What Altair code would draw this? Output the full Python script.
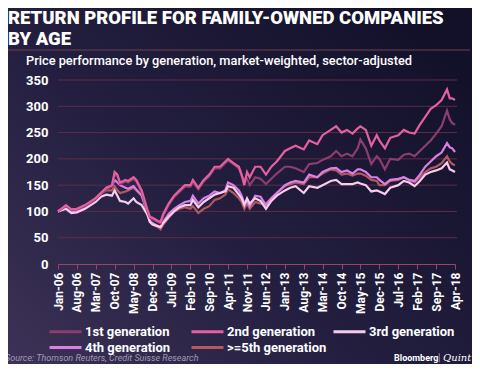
import altair as alt
import pandas as pd

dates = ["2006-01", "2006-04", "2006-06", "2006-08", "2006-11", "2007-03", "2007-05", "2007-07",
         "2007-09", "2007-10", "2007-11", "2007-12", "2008-02", "2008-03", "2008-05", "2008-06",
         "2008-08", "2008-10", "2008-11", "2008-12", "2009-02", "2009-03", "2009-04", "2009-06",
         "2009-08", "2009-10", "2009-12", "2010-02", "2010-03", "2010-05", "2010-07", "2010-09",
         "2010-11", "2011-01", "2011-03", "2011-04", "2011-06", "2011-08", "2011-09", "2011-10",
         "2011-11", "2011-12", "2012-02", "2012-04", "2012-06", "2012-08", "2012-10", "2013-01",
         "2013-03", "2013-05", "2013-08", "2013-10", "2014-01", "2014-03", "2014-06", "2014-08",
         "2014-10", "2014-12", "2015-02", "2015-04", "2015-05", "2015-07", "2015-09", "2015-11",
         "2015-12", "2016-02", "2016-04", "2016-07", "2016-09", "2016-11", "2017-01", "2017-03",
         "2017-05", "2017-07", "2017-09", "2017-11", "2018-01", "2018-02", "2018-03", "2018-04"]

gen1 = [100, 110, 103, 104, 110, 123, 133, 142, 148, 170, 167, 152, 157, 155, 162, 157,
        137, 102, 88, 85, 80, 77, 92, 112, 127, 137, 147, 147, 156, 142, 157, 167,
        182, 182, 192, 197, 190, 182, 168, 160, 162, 150, 165, 162, 152, 162, 172, 185,
        185, 182, 175, 190, 192, 198, 205, 215, 205, 210, 205, 220, 237, 220, 190, 205,
        200, 180, 200, 198, 208, 210, 205, 215, 225, 235, 248, 262, 292, 275, 268, 265]

gen2 = [100, 112, 104, 105, 112, 125, 135, 145, 150, 175, 170, 155, 160, 158, 165, 160,
        140, 105, 90, 88, 82, 80, 95, 115, 130, 140, 150, 150, 160, 145, 160, 170,
        185, 185, 195, 200, 192, 185, 170, 150, 175, 165, 185, 185, 170, 185, 195, 215,
        220, 225, 218, 235, 228, 245, 255, 262, 250, 255, 248, 258, 262, 255, 225, 245,
        235, 220, 240, 245, 255, 250, 248, 265, 280, 295, 302, 312, 332, 315, 315, 312]

gen3 = [100, 105, 97, 98, 105, 118, 128, 132, 130, 140, 130, 120, 118, 115, 125, 118,
        112, 95, 80, 75, 72, 70, 78, 90, 100, 108, 112, 112, 122, 108, 118, 125,
        132, 135, 138, 148, 145, 132, 125, 112, 125, 115, 125, 120, 105, 120, 130, 140,
        145, 148, 135, 148, 145, 150, 158, 160, 152, 152, 152, 155, 153, 150, 138, 140,
        138, 133, 145, 150, 158, 155, 148, 158, 170, 175, 178, 182, 193, 180, 178, 175]

gen4 = [100, 108, 100, 100, 108, 125, 135, 145, 148, 160, 155, 150, 145, 143, 148, 142,
        130, 100, 82, 78, 72, 70, 80, 95, 105, 112, 118, 120, 130, 115, 125, 130,
        138, 135, 140, 155, 150, 140, 130, 115, 120, 110, 130, 128, 112, 125, 135, 150,
        155, 158, 155, 170, 165, 175, 182, 183, 175, 178, 172, 180, 180, 175, 165, 165,
        160, 152, 160, 162, 165, 160, 158, 170, 185, 195, 205, 212, 230, 222, 220, 213]

gen5 = [100, 108, 103, 103, 110, 125, 135, 140, 140, 148, 140, 135, 138, 140, 145, 140,
        130, 100, 80, 75, 70, 66, 75, 88, 100, 105, 108, 105, 110, 97, 105, 110,
        122, 125, 132, 142, 135, 125, 118, 105, 115, 105, 118, 115, 115, 125, 135, 148,
        152, 155, 152, 165, 165, 172, 180, 178, 170, 172, 168, 172, 172, 168, 160, 158,
        150, 150, 158, 160, 165, 160, 155, 165, 175, 182, 185, 192, 205, 195, 190, 188]

series_names = ["1st generation", "2nd generation", "3rd generation", "4th generation", ">=5th generation"]
series_colors = ["#8c3d70", "#e4609f", "#f6cdee", "#d97fe6", "#b3585e"]
draw_order = [">=5th generation", "4th generation", "3rd generation", "1st generation", "2nd generation"]

tick_labels = ["Jan-06", "Aug-06", "Mar-07", "Oct-07", "May-08", "Dec-08", "Jul-09", "Feb-10",
               "Sep-10", "Apr-11", "Nov-11", "Jun-12", "Jan-13", "Aug-13", "Mar-14", "Oct-14",
               "May-15", "Dec-15", "Jul-16", "Feb-17", "Sep-17", "Apr-18"]
y_ticks = [0, 50, 100, 150, 200, 250, 300, 350]

values_by_name = dict(zip(series_names, [gen1, gen2, gen3, gen4, gen5]))
rows = []
for name in draw_order:
    for d, v in zip(dates, values_by_name[name]):
        rows.append({"date": d + "-01", "series": name, "value": v})
df = pd.DataFrame(rows)

month_num = {"Jan": 1, "Feb": 2, "Mar": 3, "Apr": 4, "May": 5, "Jun": 6, "Jul": 7,
             "Aug": 8, "Sep": 9, "Oct": 10, "Nov": 11, "Dec": 12}
tick_values = [alt.DateTime(year=2000 + int(t[4:]), month=month_num[t[:3]], date=1, utc=True)
               for t in tick_labels]

BG = "#221e3c"
BOLDF = "Roboto"
yscale = alt.Scale(domain=[0, 350], nice=False)
yaxis = alt.Axis(values=y_ticks, grid=False, domain=False, ticks=False,
                 labelFont="Roboto", labelFontSize=13, labelFontWeight="bold",
                 labelColor="#ffffff", labelPadding=10, title=None, zindex=1)

lines = alt.Chart(df).mark_line(strokeWidth=2.2, interpolate="linear").encode(
    x=alt.X("date:T", scale=alt.Scale(type="utc", domain=[alt.DateTime(year=2006, month=1, date=1, utc=True),
                                                          alt.DateTime(year=2018, month=4, date=1, utc=True)]),
            axis=alt.Axis(values=tick_values, labelExpr="utcFormat(datum.value, '%b-%y')",
                          labelAngle=270, labelAlign="right", labelBaseline="middle", labelPadding=3,
                          labelFont="Roboto", labelFontSize=12, labelFontWeight="bold",
                          labelColor="#ffffff", grid=False, domainColor="#9a4562",
                          tickColor="#9a4562", tickSize=5, labelOverlap=False, title=None,
                          zindex=1)),
    y=alt.Y("value:Q", scale=yscale, axis=yaxis),
    color=alt.Color("series:N", scale=alt.Scale(domain=series_names, range=series_colors),
                    legend=alt.Legend(title=None, orient="none", legendX=12, legendY=245,
                                      direction="horizontal", columns=3,
                                      symbolType="M-5.4,0H1", symbolSize=100,
                                      symbolStrokeWidth=3, labelFont=BOLDF,
                                      labelFontSize=13, labelFontWeight="bold",
                                      labelColor="#ffffff", labelOffset=2, columnPadding=0,
                                      rowPadding=2, padding=0, labelLimit=200, gridAlign="all")),
    detail="series:N",
)

one = alt.Data(values=[{"a": 1}])


def txt(text, x, y, size, font, weight="normal", color="#ffffff", style="normal"):
    return alt.Chart(one).mark_text(text=text, align="left", baseline="alphabetic", font=font,
                                    fontSize=size, fontWeight=weight, color=color,
                                    fontStyle=style).encode(x=alt.value(x), y=alt.value(y))


backdrop = alt.Chart(one).mark_rect(
    color=alt.LinearGradient(gradient="linear", x1=0, y1=1, x2=1, y2=0.2,
                             stops=[alt.GradientStop(color="#3c3257", offset=0),
                                    alt.GradientStop(color="#241f40", offset=0.45),
                                    alt.GradientStop(color="#13112a", offset=1)])
).encode(x=alt.value(-50), x2=alt.value(414), y=alt.value(-72), y2=alt.value(284))

grid = alt.Chart(pd.DataFrame({"value": y_ticks[1:]})).mark_rule(color="#5e2c4a", strokeWidth=1).encode(
    y=alt.Y("value:Q", scale=yscale, axis=yaxis), x=alt.value(0), x2=alt.value(399))

title1 = txt("RETURN PROFILE FOR FAMILY-OWNED COMPANIES", -50, -56, 18.5, BOLDF, 900)
title2 = txt("BY AGE", -50, -35, 18.5, BOLDF, 900)
sub = txt("Price performance by generation, market-weighted, sector-adjusted", -32, -15, 12.8,
          "Roboto", 500)
source = txt("Source: Thomson Reuters, Credit Suisse Research", -53, 281, 9, "Roboto",
             "normal", "#a29bb4", "italic")
brand = txt("Bloomberg", 336, 281, 9, "Roboto", "bold", "#ffffff")
sep = txt("|", 380, 281, 10, "Roboto", "normal", "#a29bb4")
quint = txt("Quint", 385, 281, 10, "DejaVu Serif", "normal", "#ffffff", "italic")
divider = alt.Chart(one).mark_rule(color="#6b4350", strokeWidth=1).encode(
    x=alt.value(-50), x2=alt.value(412), y=alt.value(-30))

chart = alt.layer(backdrop, grid, lines, divider, title1, title2, sub, source, brand, sep,
                  quint).properties(
    width=397, height=184, background=BG,
    padding={"left": 50, "top": 72, "right": 17, "bottom": 100},
    autosize=alt.AutoSizeParams(type="none"),
).configure_view(stroke=None)

chart.save("out.html", embed_options={"renderer": "svg", "actions": False})
